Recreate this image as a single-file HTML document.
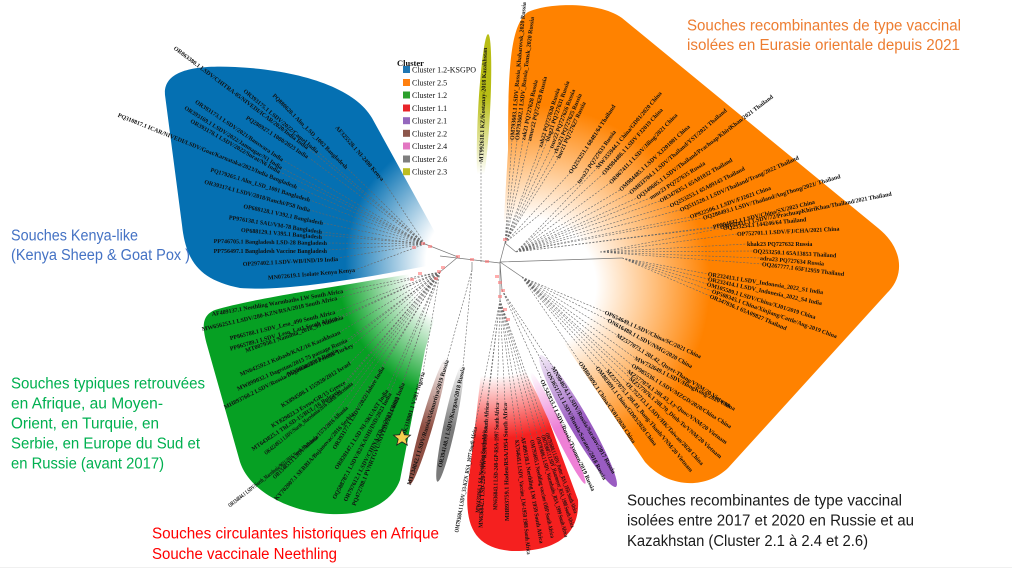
<!DOCTYPE html>
<html><head><meta charset="utf-8"><style>
html,body{margin:0;padding:0;background:#fff}
svg{display:block}
.t{font-family:"Liberation Serif",serif;font-weight:bold;font-size:6px;fill:#111}
.lg{font-family:"Liberation Serif",serif;font-size:8px;fill:#111}
.an{font-family:"Liberation Sans",sans-serif;font-size:15.5px}
.d{fill:none;stroke:#666;stroke-width:0.6;stroke-dasharray:2 1.5}
.s{fill:none;stroke:#777;stroke-width:0.7}
</style></head><body>
<svg width="1012" height="575" viewBox="0 0 1012 575" xmlns="http://www.w3.org/2000/svg">
<defs>
<radialGradient id="gB" gradientUnits="userSpaceOnUse" cx="480" cy="262" r="150">
<stop offset="0.36" stop-color="#fff"/><stop offset="0.9" stop-color="#0570b2"/></radialGradient>
<radialGradient id="gG" gradientUnits="userSpaceOnUse" cx="480" cy="262" r="160">
<stop offset="0.45" stop-color="#fff"/><stop offset="0.9" stop-color="#06a023"/></radialGradient>
<radialGradient id="gO" gradientUnits="userSpaceOnUse" cx="530" cy="285" r="200">
<stop offset="0.33" stop-color="#fff"/><stop offset="0.9" stop-color="#ff8200"/></radialGradient>
<radialGradient id="gR" gradientUnits="userSpaceOnUse" cx="490" cy="265" r="300">
<stop offset="0.37" stop-color="#fff"/><stop offset="0.58" stop-color="#f5201f"/></radialGradient>
<linearGradient id="lP" x1="0" y1="0" x2="1" y2="0"><stop offset="0" stop-color="#f4ecf8"/><stop offset="0.5" stop-color="#9a5cc2"/></linearGradient>
<linearGradient id="lK" x1="0" y1="0" x2="1" y2="0"><stop offset="0" stop-color="#fff"/><stop offset="0.5" stop-color="#ee80d6"/></linearGradient>
<linearGradient id="lN" x1="0" y1="0" x2="1" y2="0"><stop offset="0" stop-color="#fff"/><stop offset="0.55" stop-color="#8f5044"/></linearGradient>
<linearGradient id="lA" x1="0" y1="0" x2="1" y2="0"><stop offset="0" stop-color="#fff"/><stop offset="0.55" stop-color="#7a7a7a"/></linearGradient>
<linearGradient id="lY" x1="0" y1="0" x2="1" y2="0"><stop offset="0.1" stop-color="#fff"/><stop offset="0.6" stop-color="#b8bd14"/></linearGradient>
</defs>
<rect width="1012" height="575" fill="#fff"/>
<line x1="0" y1="567.5" x2="1012" y2="567.5" stroke="#f0f0f0" stroke-width="1"/>

<!-- blobs -->
<path d="M448 256 L372 118 C355 88 300 70 235 67 C195 65 163 70 165 95 L182 225 C186 262 200 280 240 288 C290 292 380 275 448 262 Z" fill="url(#gB)"/>
<path d="M446 268 L350 284 C300 292 240 302 215 310 C200 316 203 330 207 345 L240 462 C250 492 290 512 330 514 C370 516 393 500 400 480 L425 350 L448 272 Z" fill="url(#gG)"/>
<path d="M502 252 L508 150 C508 70 510 25 528 12 C550 2 600 2 622 18 L878 228 C903 248 905 275 888 292 L728 468 C705 490 668 488 645 462 L528 290 Z" fill="url(#gO)"/>
<path d="M486 330 L470 470 C462 520 470 548 512 551 C556 552 580 535 578 500 L545 410 L505 330 Z" fill="url(#gR)"/>
<ellipse cx="0" cy="0" rx="76" ry="10" transform="translate(578 421) rotate(60)" fill="url(#lP)"/>
<ellipse cx="0" cy="0" rx="62" ry="5" transform="translate(558 428) rotate(64)" fill="url(#lK)"/>
<ellipse cx="0" cy="0" rx="66" ry="6" transform="translate(428 421) rotate(106)" fill="url(#lN)"/>
<ellipse cx="0" cy="0" rx="60" ry="6" transform="translate(450 423) rotate(102)" fill="url(#lA)"/>
<ellipse cx="0" cy="0" rx="78" ry="6" transform="translate(484 112) rotate(-87)" fill="url(#lY)"/>

<!-- tree skeleton -->
<path class="s" d="M440 256 L500 263 M458 257 L425 244 M458 257 L440 272 M500 262 L505 243 M505 243 L516 252 M500 262 L622 258 M500 262 L522 277 M500 262 L500 300 M500 262 L502 290 M472 262 L472 270"/>
<!-- dashed branches -->
<path class="d" d="M425 244L308 148M425 244L347 168M425 244L318 152M425 244L308 157M425 244L283 160M425 244L282 168M425 244L280 172M425 244L297 187M425 244L310 200M425 244L310 210M425 244L323 223M425 244L322 232M425 244L322 235M425 244L327 243M425 244L327 250M425 244L338 258M425 244L355 270M425 244L383 180"/>
<path class="d" d="M440 272L343 291M440 272L337 298M440 272L335 312M440 272L337 318M440 272L343 317M440 272L340 332M440 272L347 340M440 272L337 350M440 272L353 345M440 272L350 363M440 272L345 382M440 272L340 390M440 272L352 383M440 272L347 407M440 272L353 413M440 272L317 437M440 272L383 367M440 272L387 390M440 272L390 393M440 272L398 397M440 272L403 383M440 272L423 372"/>
<path class="d" d="M505 243L512 140M505 243L517 140M505 243L523 140M505 243L529 141M505 243L540 147M505 243L547 141M505 243L551 148M505 243L555 153M505 243L558 158M505 243L570 173M505 243L578 183"/>
<path class="d" d="M516 252L597 168M516 252L603 174M516 252L610 183M516 252L620 190M516 252L630 193M516 252L637 198M516 252L650 198M516 252L660 201M516 252L670 206M516 252L680 210M516 252L690 217M516 252L703 218M516 252L713 227M516 252L720 227"/>
<path class="d" d="M600 252L723 228M600 252L737 234M600 252L747 244M600 252L753 251M600 252L760 258M600 252L762 264M622 258L708 274M622 258L708 279M622 258L707 284M622 258L712 291M622 258L710 296"/>
<path class="d" d="M522 277L605 312M522 277L608 320M522 277L617 335M522 277L635 358M522 277L632 365M522 277L628 371M522 277L630 378M522 277L627 383M522 277L607 370M522 277L597 367M522 277L580 362"/>
<path class="d" d="M500 300L475 427M500 300L485 427M500 300L487 403M500 300L497 403M500 300L505 403M500 300L517 440M500 300L523 437M500 300L532 440M500 300L538 437M500 300L543 435M500 300L547 433"/>
<path class="d" d="M502 290L553 367M502 290L548 372M502 290L542 380M472 270L447 360M472 270L463 367M481 262L481 162"/>
<!-- node markers -->
<g fill="#f77" opacity="0.6">
<rect x="456" y="255" width="4" height="3"/><rect x="470" y="258" width="4" height="3"/><rect x="421" y="242" width="4" height="3"/><rect x="428" y="245" width="4" height="3"/><rect x="437" y="270" width="4" height="3"/><rect x="434" y="277" width="4" height="3"/><rect x="441" y="266" width="4" height="3"/><rect x="503" y="238" width="4" height="3"/><rect x="495" y="275" width="4" height="3"/><rect x="498" y="295" width="4" height="3"/><rect x="498" y="281" width="4" height="3"/><rect x="501" y="289" width="4" height="3"/><rect x="485" y="260" width="4" height="3"/><rect x="412" y="246" width="4" height="3"/><rect x="418" y="272" width="4" height="3"/><rect x="410" y="278" width="4" height="3"/><rect x="503" y="308" width="4" height="3"/><rect x="506" y="318" width="4" height="3"/>
</g>

<!-- blue labels (anchor end at inner point) -->
<g class="t" text-anchor="end">
<text transform="translate(308 148) rotate(37)" dy="2">OR863380.1 LSDV/CHITRA-05/NIVEDI/ICAR/2020/India India</text>
<text transform="translate(347 168) rotate(45)" dy="2">PQ880620.1 Alm_LSD_1002 Bangladesh</text>
<text transform="translate(318 152) rotate(40)" dy="2">OR393175.1 LSDV/2022/Camel India</text>
<text transform="translate(308 157) rotate(33)" dy="2">PQ280927.1 1080/2023 India</text>
<text transform="translate(283 160) rotate(34)" dy="2">OR393173.1 LSDV/2021/Banswara India</text>
<text transform="translate(282 168) rotate(32)" dy="2">OR393169.1 LSDV/2022/Jamnagar/N1 India</text>
<text transform="translate(280 172) rotate(30)" dy="2">OR393178.1 LSDV/2022/Surat/N6 India</text>
<text transform="translate(297 187) rotate(22)" dy="2">PQ310817.1 ICAR/NIVEDI/LSDV/Goat/Karnataka/2023/India Bangladesh</text>
<text transform="translate(310 200) rotate(17)" dy="2">PQ179265.1 Alm_LSD_1001 Bangladesh</text>
<text transform="translate(310 210) rotate(15)" dy="2">OR393174.1 LSDV/2018/Ranchi/P58 India</text>
<text transform="translate(323 223) rotate(12)" dy="2">OP688128.1 V392.1 Bangladesh</text>
<text transform="translate(322 232) rotate(9)" dy="2">PP976138.1 SAU/VM-78 Bangladesh</text>
<text transform="translate(322 237) rotate(5)" dy="2">OP688129.1 V395.1 Bangladesh</text>
<text transform="translate(327 243) rotate(1)" dy="2">PP746705.1 Bangladesh LSD-28 Bangladesh</text>
<text transform="translate(327 251) rotate(0)" dy="2">PP756497.1 Bangladesh Vaccine Bangladesh</text>
<text transform="translate(338 259) rotate(-3)" dy="2">OP297402.1 LSDV-WB/IND/19 India</text>
<text transform="translate(355 270) rotate(-5)" dy="2">MN072619.1 Isolate Kenya Kenya</text>
<text transform="translate(383 180) rotate(49)" dy="2">AF325528.1 NI-2490 Kenya</text>
</g>

<!-- green labels -->
<g class="t" text-anchor="end">
<text transform="translate(343 291) rotate(-10)" dy="2">AF409137.1 Neethling Warmbaths LW South Africa</text>
<text transform="translate(337 298) rotate(-13)" dy="2">MW656253.1 LSDV/280-KZN/RSA/2018 South Africa</text>
<text transform="translate(335 312) rotate(-14)" dy="2">PP865788.1 LSDV_Leso_490 South Africa</text>
<text transform="translate(337 318) rotate(-16)" dy="2">PP865789.1 LSDV_Leso_Lat1 South Africa</text>
<text transform="translate(343 317) rotate(-19)" dy="2">MT007950.1 Namibia_2016_99 Namibia</text>
<text transform="translate(340 332) rotate(-23)" dy="2">MN642592.1 Kubash/KAZ/16 Kazakhstan</text>
<text transform="translate(347 340) rotate(-24)" dy="2">MW899032.1 Dagestan/2015 75 passage Russia</text>
<text transform="translate(337 350) rotate(-27)" dy="2">MH893760.2 LSDV/Russia/Dagestan/2015 Russia</text>
<text transform="translate(353 345) rotate(-24)" dy="2">MN995838.1 Pendik Turkey</text>
<text transform="translate(350 363) rotate(-32)" dy="2">KX894508.1 155920/2012 Israel</text>
<text transform="translate(345 382) rotate(-31)" dy="2">KY829023.3 Evros/GR/15 Greece</text>
<text transform="translate(340 390) rotate(-34)" dy="2">MT643825.1 ThLSD-15/BUL/16 Bulgaria</text>
<text transform="translate(352 383) rotate(-39)" dy="2" textLength="112" lengthAdjust="spacingAndGlyphs">OK422493.1 LSDV/North_Macedonia/2016 North Macedonia</text>
<text transform="translate(347 407) rotate(-44)" dy="2" textLength="102" lengthAdjust="spacingAndGlyphs">OR134853.1 LSDV/Albania/1573/2016 Albania</text>
<text transform="translate(353 413) rotate(-48)" dy="2">KY702007.1 SERBIA/Bujanovac/2016 Serbia</text>
<text transform="translate(317 437) rotate(-38)" dy="2" textLength="112" lengthAdjust="spacingAndGlyphs">OR134844.1 LSDV/North_Macedonia/9611/2016 North Macedonia</text>
<text transform="translate(383 367) rotate(-59)" dy="2">OR393177.1 LSDV/2022/Jalore India</text>
<text transform="translate(387 390) rotate(-57)" dy="2">OR820147.1 LSD NI-SKUAST India</text>
<text transform="translate(390 393) rotate(-62)" dy="2">OQ588787.1 LSDV/82/KASHI/IND/2023 India</text>
<text transform="translate(398 397) rotate(-63)" dy="2">OR797612.1 LSDV/CHINA/Tibet/2023 China</text>
<text transform="translate(403 383) rotate(-68)" dy="2">PQ472788.1 PVNRTGVU/NIVEDI/2024/6809 India</text>
<text transform="translate(423 372) rotate(-73)" dy="2">OK318001.1 V281 Nigeria</text>
</g>

<!-- orange labels (anchor start) -->
<g class="t">
<text transform="translate(512 140) rotate(-85)" dy="2">OM793603.1 LSDV_Russia_Khabarovsk_2020 Russia</text>
<text transform="translate(517 140) rotate(-83)" dy="2">OM793602.1 LSDV_Russia_Tomsk_2020 Russia</text>
<text transform="translate(523 140) rotate(-78)" dy="2">zak21 PQ727628 Russia</text>
<text transform="translate(529 141) rotate(-76)" dy="2">amur22 PQ727629 Russia</text>
<text transform="translate(540 147) rotate(-73)" dy="2">zab22 PQ727630 Russia</text>
<text transform="translate(547 141) rotate(-71)" dy="2">blag21 PQ727631 Russia</text>
<text transform="translate(551 148) rotate(-69)" dy="2">tsur22 PQ727626 Russia</text>
<text transform="translate(555 153) rotate(-67)" dy="2">rkva23 PQ727625 Russia</text>
<text transform="translate(558 158) rotate(-65)" dy="2">bur21 PQ727627 Russia</text>
<text transform="translate(570 173) rotate(-57)" dy="2">OQ253251.1 68481/64 Thailand</text>
<text transform="translate(578 183) rotate(-55)" dy="2">tuva23 PQ727633 Russia</text>
<text transform="translate(597 168) rotate(-50)" dy="2">MW355944.1 China/GD01/2020 China</text>
<text transform="translate(603 174) rotate(-48)" dy="2">OM984486.1 LSDV FJ2019 China</text>
<text transform="translate(610 183) rotate(-46)" dy="2">OR067411.1 LSDV/Jiling/2021 China</text>
<text transform="translate(620 190) rotate(-43)" dy="2">OM984485.1 LSDV XJ201001 China</text>
<text transform="translate(630 193) rotate(-41)" dy="2">OM033704.1 LSDV/Thailand/YST/2021 Thailand</text>
<text transform="translate(637 198) rotate(-37)" dy="2">OQ349605.1 LSDV/Thailand/Prachuap/KhiriKhan/2021 Thailand</text>
<text transform="translate(650 198) rotate(-33)" dy="2">mmr23 PQ727635 Russia</text>
<text transform="translate(660 201) rotate(-30)" dy="2">OR347835.1 65A01032 Thailand</text>
<text transform="translate(670 206) rotate(-27)" dy="2">OQ253253.1 65A09143 Thailand</text>
<text transform="translate(680 210) rotate(-24)" dy="2">OQ511520.1 LSDV/Thailand/Trang/2022 Thailand</text>
<text transform="translate(690 217) rotate(-20)" dy="2">OP922506.1 LSDV/FJ2021 China</text>
<text transform="translate(703 218) rotate(-17)" dy="2">OQ280493.1 LSDV/Thailand/AngThong/2021/ Thailand</text>
<text transform="translate(713 227) rotate(-14)" dy="2">PP894832.1 LSDV/China/SX/2023 China</text>
<text transform="translate(720 227) rotate(-11)" dy="2">ON152411.1 LSDV/72/PrachuapKhiriKhan/Thailand/2021 Thailand</text>
<text transform="translate(723 228) rotate(-6)" dy="2">OQ253254.1 144246/64 Thailand</text>
<text transform="translate(737 234) rotate(-3)" dy="2">OP752701.1 LSDV/FJ/CHA/2021 China</text>
<text transform="translate(747 244) rotate(0)" dy="2">khak23 PQ727632  Russia</text>
<text transform="translate(753 251) rotate(3)" dy="2">OQ253250.1 65A13853 Thailand</text>
<text transform="translate(760 258) rotate(5)" dy="2">adra23 PQ727634  Russia</text>
<text transform="translate(762 264) rotate(7)" dy="2">OQ267777.1 65F12959 Thailand</text>
<text transform="translate(708 274) rotate(9)" dy="2">OR232413.1 LSDV_Indonesia_2022_S1 India</text>
<text transform="translate(708 279) rotate(12)" dy="2">OR232414.1 LSDV_Indonesia_2022_S4 India</text>
<text transform="translate(707 284) rotate(17)" dy="2">OM105589.1 LSDV/China/XJ01/2019 China</text>
<text transform="translate(712 291) rotate(20)" dy="2">OP508345.1 China/Xinjiang/Cattle/Aug-2019 China</text>
<text transform="translate(710 296) rotate(23)" dy="2">OR347836.1 65A09827 Thailand</text>
<text transform="translate(605 312) rotate(25)" dy="2">OP654649.1 LSDV/China/SC/2021 China</text>
<text transform="translate(608 320) rotate(29)" dy="2">ON616488.1 LSDV/NMG/2020 China</text>
<text transform="translate(617 335) rotate(32)" dy="2">MZ577073.1 20L42_Quyet-Thang/VNM/20 Vietnam</text>
<text transform="translate(635 358) rotate(27)" dy="2">MW732649.1 LSDV/HongKong/2020 China</text>
<text transform="translate(632 365) rotate(32)" dy="2">OP985536.1 LSDV/MZGD/2020/China China</text>
<text transform="translate(628 371) rotate(36)" dy="2">MZ577074.1 20L43_Ly-Quoc/VNM/20 Vietnam</text>
<text transform="translate(630 378) rotate(41)" dy="2">MZ577076.1 20L70_Dinh-To/VNM/20 Vietnam</text>
<text transform="translate(627 383) rotate(47)" dy="2">OL752713.1 LSDV/HK/Taiwan/2020 China</text>
<text transform="translate(607 370) rotate(50)" dy="2">MZ577075.1 20L81_Bang-Thanh/VNM/20 Vietnam</text>
<text transform="translate(597 367) rotate(53)" dy="2">OM803091.1 China/GD03/2020 China</text>
<text transform="translate(580 362) rotate(56)" dy="2">OM803092.1 China/CX01/2020 China</text>
</g>

<!-- red + small clusters -->
<g class="t" text-anchor="end">
<text transform="translate(475 427) rotate(-80)" dy="2" textLength="107" lengthAdjust="spacingAndGlyphs">OM793604.1 LSDV_33-KZN_RSA_1977 South Africa</text>
<text transform="translate(485 427) rotate(-85)" dy="2" textLength="86" lengthAdjust="spacingAndGlyphs">MW435866.1 SA-Neethling South Africa</text>
<text transform="translate(487 403) rotate(-87)" dy="2" textLength="125" lengthAdjust="spacingAndGlyphs">MN636842.1 LSD-220-2-NW-RSA-1993 South Africa</text>
<text transform="translate(497 403) rotate(-89)" dy="2" textLength="107" lengthAdjust="spacingAndGlyphs">MN636843.1 LSD-248-GP-RSA-1997 South Africa</text>
<text transform="translate(505 403) rotate(-91)" dy="2" textLength="118" lengthAdjust="spacingAndGlyphs">MH893759.1 Haden/RSA/1954 South Africa</text>
<text transform="translate(447 360) rotate(-73)" dy="2">MT134042.1 LSDV/Russia/Udmurtiya/2019 Russia</text>
<text transform="translate(463 367) rotate(-77)" dy="2">OR394148.1 LSDV/Kurgan/2018 Russia</text>
</g>
<g class="t">
<text transform="translate(517 440) rotate(84)" dy="2" textLength="115" lengthAdjust="spacingAndGlyphs">KX764645.1 LSDV_Vaccine_LW-1959 1988 South Africa</text>
<text transform="translate(523 437) rotate(80)" dy="2" textLength="108" lengthAdjust="spacingAndGlyphs">AF409138.1 Neethling LW 1959 South Africa</text>
<text transform="translate(532 440) rotate(78)" dy="2" textLength="100" lengthAdjust="spacingAndGlyphs">OM793605.1 Neethling vaccine OBP South Africa</text>
<text transform="translate(538 437) rotate(74)" dy="2" textLength="104" lengthAdjust="spacingAndGlyphs">OM793606.1 LSDV_Warmbaths_RSA_1999 South Africa</text>
<text transform="translate(543 435) rotate(72)" dy="2" textLength="97" lengthAdjust="spacingAndGlyphs">OM793607.1 LSDV_Haarmeyer_RSA_1988 South Africa</text>
<text transform="translate(547 433) rotate(70)" dy="2" textLength="85" lengthAdjust="spacingAndGlyphs">OM793608.1 LSDV_Potter_RSA_1956 South Africa</text>
<text transform="translate(553 367) rotate(60)" dy="2">MN904674.1 LSDV/Russia/Saratov/2017 Russia</text>
<text transform="translate(548 372) rotate(62)" dy="2">ON365172.1 LSDV/Russia/Saratov/2018 Russia</text>
<text transform="translate(542 380) rotate(65)" dy="2">OL542833.1 LSDV/Russia/Tyumen/2019 Russia</text>
<text transform="translate(481 162) rotate(-88)" dy="2">MT992618.1 KZ/Kostanay-2018 Kazakhstan</text>
</g>

<!-- star -->
<polygon points="402,429 404.4,434.7 410.5,435.2 405.8,439.1 407.3,445.1 402,441.9 396.7,445.1 398.2,439.1 393.5,435.2 399.6,434.7" fill="#f7cf4f" stroke="#222" stroke-width="0.8"/>

<!-- legend -->
<text x="397" y="66" style="font-family:'Liberation Serif',serif;font-weight:bold;font-size:8.5px;fill:#111">Cluster</text>
<g>
<rect x="403" y="66" width="7" height="7" fill="#1f77b4"/><text class="lg" x="412" y="72.3">Cluster 1.2-KSGPO</text>
<rect x="403" y="79" width="7" height="7" fill="#ff7f0e"/><text class="lg" x="412" y="85.3">Cluster 2.5</text>
<rect x="403" y="91.5" width="7" height="7" fill="#2ca02c"/><text class="lg" x="412" y="98">Cluster 1.2</text>
<rect x="403" y="104.5" width="7" height="7" fill="#e8242a"/><text class="lg" x="412" y="111">Cluster 1.1</text>
<rect x="403" y="117.2" width="7" height="7" fill="#9467bd"/><text class="lg" x="412" y="123.7">Cluster 2.1</text>
<rect x="403" y="129.8" width="7" height="7" fill="#8c564b"/><text class="lg" x="412" y="136.3">Cluster 2.2</text>
<rect x="403" y="142.5" width="7" height="7" fill="#e377c2"/><text class="lg" x="412" y="149">Cluster 2.4</text>
<rect x="403" y="155.5" width="7" height="7" fill="#7f7f7f"/><text class="lg" x="412" y="162">Cluster 2.6</text>
<rect x="403" y="168.2" width="7" height="7" fill="#bcbd22"/><text class="lg" x="412" y="174.7">Cluster 2.3</text>
</g>

<!-- annotations -->
<g class="an" fill="#ED7D31">
<text x="687" y="30.5" textLength="274" lengthAdjust="spacingAndGlyphs">Souches recombinantes de type vaccinal</text>
<text x="687" y="50" textLength="273" lengthAdjust="spacingAndGlyphs">isolées en Eurasie orientale depuis 2021</text>
</g>
<g class="an" fill="#4472C4">
<text x="11" y="240.5" textLength="127" lengthAdjust="spacingAndGlyphs">Souches Kenya-like</text>
<text x="11" y="260" textLength="179" lengthAdjust="spacingAndGlyphs">(Kenya Sheep &amp; Goat Pox )</text>
</g>
<g class="an" fill="#00B050">
<text x="11" y="388.5" textLength="194" lengthAdjust="spacingAndGlyphs">Souches typiques retrouvées</text>
<text x="11" y="408.5" textLength="152" lengthAdjust="spacingAndGlyphs">en Afrique, au Moyen-</text>
<text x="11" y="428.5" textLength="148" lengthAdjust="spacingAndGlyphs">Orient, en Turquie, en</text>
<text x="11" y="448.5" textLength="189" lengthAdjust="spacingAndGlyphs">Serbie, en Europe du Sud et</text>
<text x="11" y="468.5" textLength="153" lengthAdjust="spacingAndGlyphs">en Russie (avant 2017)</text>
</g>
<g class="an" fill="#FF0000">
<text x="152" y="538.5" textLength="287" lengthAdjust="spacingAndGlyphs">Souches circulantes historiques en Afrique</text>
<text x="152" y="559" textLength="185" lengthAdjust="spacingAndGlyphs">Souche vaccinale Neethling</text>
</g>
<g class="an" fill="#1a1a1a">
<text x="627" y="505.5" textLength="275" lengthAdjust="spacingAndGlyphs">Souches recombinantes de type vaccinal</text>
<text x="627" y="525.5" textLength="287" lengthAdjust="spacingAndGlyphs">isolées entre 2017 et 2020 en Russie et au</text>
<text x="627" y="546" textLength="241" lengthAdjust="spacingAndGlyphs">Kazakhstan (Cluster 2.1 à 2.4 et 2.6)</text>
</g>
</svg>
</body></html>
